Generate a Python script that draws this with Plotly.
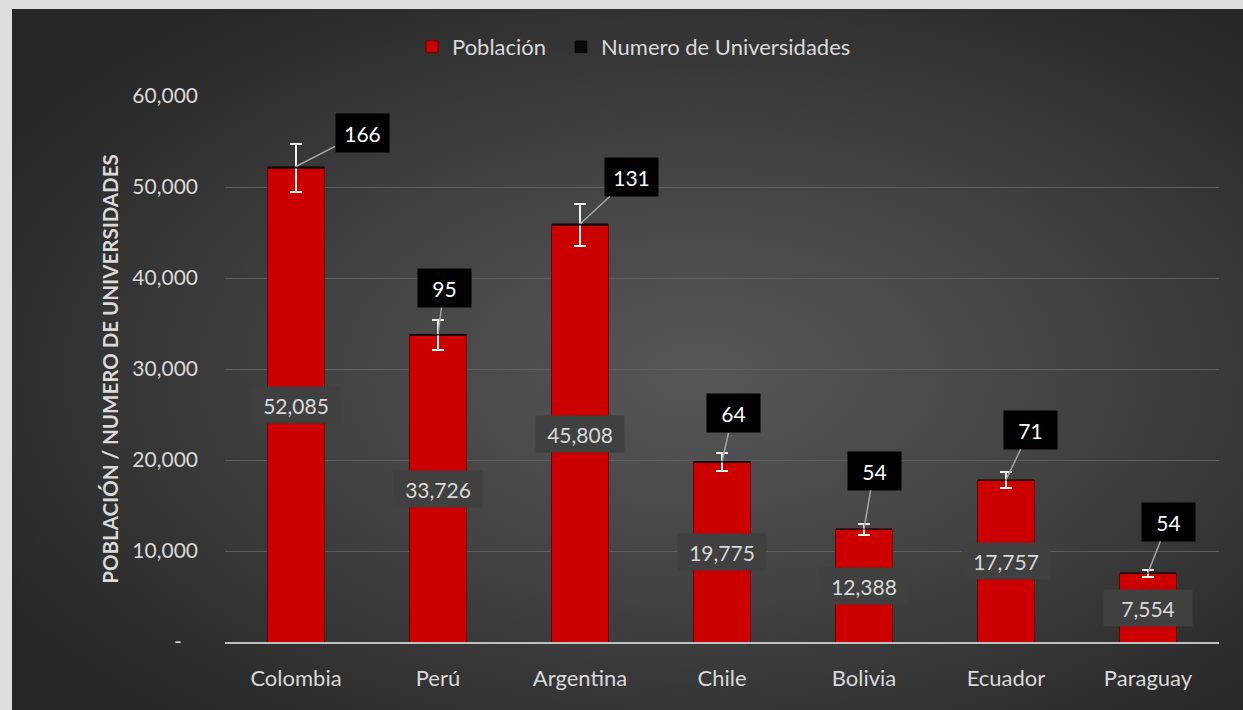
import base64
import plotly.graph_objects as go

# ---- data ----
countries = ["Colombia", "Perú", "Argentina", "Chile", "Bolivia", "Ecuador", "Paraguay"]
poblacion = [52085, 33726, 45808, 19775, 12388, 17757, 7554]
universidades = [166, 95, 131, 64, 54, 71, 54]
error_pct = 5
y_tickvals = [0, 10000, 20000, 30000, 40000, 50000, 60000]
y_ticktext = ["-\u00a0\u00a0\u00a0", "10,000", "20,000", "30,000", "40,000", "50,000", "60,000"]

# label offsets (pixels) for the universities callouts
uni_offsets = [(66, -34), (6, -46), (51, -47), (11, -48), (10, -58), (24, -50), (20, -51)]

W, H = 1243, 710
ML, MR, MT, MB = 225, 24, 96, 68
PW, PH = W - ML - MR, H - MT - MB

FONT = "Lato, Open Sans, sans-serif"
TXT = "#d9d9d9"

svg = """<svg xmlns='http://www.w3.org/2000/svg' width='1231' height='701' viewBox='0 0 1231 701' preserveAspectRatio='none'>
<defs><radialGradient id='g' cx='0.56' cy='0.52' r='0.66'>
<stop offset='0' stop-color='#575757'/><stop offset='0.5' stop-color='#414141'/><stop offset='1' stop-color='#262626'/></radialGradient></defs>
<rect width='1231' height='701' fill='url(#g)'/></svg>"""
bg_src = "data:image/svg+xml;base64," + base64.b64encode(svg.encode()).decode()

fig = go.Figure()
fig.add_trace(go.Bar(
    x=countries, y=poblacion, name="Población", legend="legend",
    marker=dict(color="#cc0000", line=dict(color="#6e0000", width=1)),
    error_y=dict(type="percent", value=error_pct, color="#f2f2f2", thickness=2, width=6),
    hoverinfo="skip",
))
fig.add_trace(go.Bar(
    x=countries, y=universidades, name="Numero de Universidades", legend="legend2",
    marker=dict(color="#0a0a0a", line=dict(color="#000000", width=0.5)),
    hoverinfo="skip",
))

annotations = []
for c, p, u, (ax, ay) in zip(countries, poblacion, universidades, uni_offsets):
    annotations.append(dict(
        x=c, y=p / 2, xref="x", yref="y", text=f"{p:,}", showarrow=False,
        font=dict(family=FONT, size=21, color=TXT), bgcolor="#404040",
        width=80, height=28, borderpad=4, align="center", valign="middle",
    ))
    annotations.append(dict(
        x=c, y=p + u, xref="x", yref="y", text=str(u), showarrow=True,
        arrowhead=0, arrowwidth=1.5, arrowcolor="#a6a6a6", standoff=0,
        ax=ax, ay=ay, font=dict(family=FONT, size=21, color="#ffffff"),
        bgcolor="#000000", width=45, height=30, borderpad=4,
    ))

leg_common = dict(
    orientation="h", xref="container", yref="container",
    y=1 - 47 / H, xanchor="left", yanchor="middle",
    font=dict(family=FONT, size=22, color=TXT), bgcolor="rgba(0,0,0,0)",
    itemwidth=30,
)

fig.update_layout(
    width=W, height=H,
    margin=dict(l=ML, r=MR, t=MT, b=MB),
    paper_bgcolor="#dedede", plot_bgcolor="rgba(0,0,0,0)",
    barmode="stack", bargap=0.6,
    font=dict(family=FONT, color=TXT),
    showlegend=True,
    images=[dict(
        source=bg_src, xref="paper", yref="paper",
        x=(12 - ML) / PW, y=(H - MB - 9) / PH,
        sizex=(W - 12) / PW, sizey=(H - 9) / PH,
        xanchor="left", yanchor="top", sizing="stretch", layer="below",
    )],
    legend=dict(x=412 / W, **leg_common),
    legend2=dict(x=561 / W, **leg_common),
    xaxis=dict(
        showgrid=False, showline=True, linecolor="#bfbfbf", linewidth=2,
        tickfont=dict(family=FONT, size=22, color=TXT), ticks="",
        ticklabelstandoff=16,
    ),
    yaxis=dict(
        range=[0, 60000], tickvals=y_tickvals, ticktext=y_ticktext,
        showgrid=True, gridcolor="#5e5e5e", gridwidth=1, zeroline=False,
        showline=False, ticks="",
        tickfont=dict(family=FONT, size=21, color=TXT), ticklabelstandoff=26,
        title=dict(text="<b>POBLACIÓN / NUMERO DE UNIVERSIDADES</b>",
                   font=dict(family=FONT, size=20.5, color=TXT), standoff=8),
    ),
    annotations=annotations,
)

fig.write_html(
    "out.html",
    config={"displayModeBar": False},
    post_script="document.body.style.margin='0';document.body.style.overflow='hidden';",
)
